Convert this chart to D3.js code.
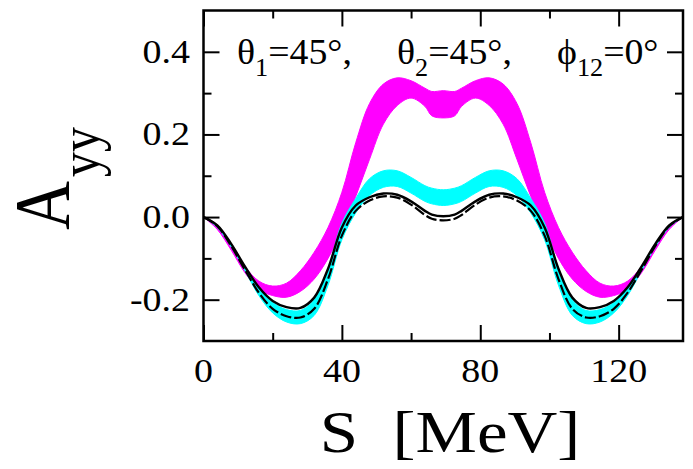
<!DOCTYPE html>
<html>
<head>
<meta charset="utf-8">
<script src="https://cdn.jsdelivr.net/npm/d3@7"></script>
<style>
  html, body { margin: 0; padding: 0; background: #fff; }
  svg { display: block; }
  text { font-family: "Liberation Serif", "Times New Roman", serif; fill: #000; }
</style>
</head>
<body>
<svg id="chart" width="693" height="469"></svg>
<script>
// Energy grid along the kinematical curve S [MeV]
const energy = [0, 4, 8, 12, 16, 20, 24, 28, 32, 36, 40, 44, 48, 52, 56, 60, 64, 66, 69.3,
  72.6, 74.6, 78.6, 82.6, 86.6, 90.6, 94.6, 98.6, 102.6, 106.6, 110.6, 114.6, 118.6, 122.6, 126.6, 130.6, 134.6, 138.6];

// Magenta band (upper / lower edge)
const magentaUpper = [0, -0.025, -0.07, -0.12, -0.155, -0.167, -0.16, -0.13, -0.085, -0.025, 0.06, 0.18, 0.275, 0.322, 0.337, 0.33, 0.312, 0.304, 0.306,
  0.304, 0.312, 0.33, 0.337, 0.322, 0.275, 0.18, 0.06, -0.025, -0.085, -0.13, -0.16, -0.167, -0.155, -0.12, -0.07, -0.025, 0];
const magentaLower = [0, -0.03, -0.08, -0.135, -0.175, -0.19, -0.194, -0.18, -0.15, -0.1, -0.03, 0.05, 0.14, 0.225, 0.27, 0.288, 0.268, 0.245, 0.24,
  0.245, 0.268, 0.288, 0.27, 0.225, 0.14, 0.05, -0.03, -0.1, -0.15, -0.18, -0.194, -0.19, -0.175, -0.135, -0.08, -0.03, 0];

// Cyan band (upper / lower edge)
const cyanUpper = [0, -0.02, -0.065, -0.12, -0.172, -0.207, -0.224, -0.226, -0.2, -0.125, -0.015, 0.045, 0.093, 0.112, 0.112, 0.096, 0.076, 0.07, 0.066,
  0.07, 0.076, 0.096, 0.112, 0.112, 0.093, 0.045, -0.015, -0.125, -0.2, -0.226, -0.224, -0.207, -0.172, -0.12, -0.065, -0.02, 0];
const cyanLower = [0, -0.025, -0.072, -0.13, -0.19, -0.232, -0.254, -0.258, -0.238, -0.165, -0.055, 0.01, 0.052, 0.072, 0.074, 0.058, 0.038, 0.032, 0.028,
  0.032, 0.038, 0.058, 0.074, 0.072, 0.052, 0.01, -0.055, -0.165, -0.238, -0.258, -0.254, -0.232, -0.19, -0.13, -0.072, -0.025, 0];

// Solid and dashed black curves
const solidCurve = [0, -0.02, -0.065, -0.12, -0.17, -0.203, -0.218, -0.22, -0.195, -0.125, -0.025, 0.028, 0.048, 0.057, 0.054, 0.038, 0.015, 0.006, 0.002,
  0.006, 0.015, 0.038, 0.054, 0.057, 0.048, 0.028, -0.025, -0.125, -0.195, -0.22, -0.218, -0.203, -0.17, -0.12, -0.065, -0.02, 0];
const dashedCurve = [0, -0.022, -0.07, -0.128, -0.183, -0.222, -0.24, -0.243, -0.222, -0.15, -0.045, 0.015, 0.04, 0.05, 0.047, 0.03, 0.005, -0.004, -0.008,
  -0.004, 0.005, 0.03, 0.047, 0.05, 0.04, 0.015, -0.045, -0.15, -0.222, -0.243, -0.24, -0.222, -0.183, -0.128, -0.07, -0.022, 0];

// Axis ticks
const xMajorTicks = [0, 40, 80, 120];
const xMinorTicks = [20, 60, 100];
const yMajorTicks = [-0.2, 0.0, 0.2, 0.4];
const yMinorTicks = [-0.1, 0.1, 0.3];
const xTickLabels = ["0", "40", "80", "120"];
const yTickLabels = ["-0.2", "0.0", "0.2", "0.4"];

const box = { left: 203.5, right: 683, top: 10.5, bottom: 341 };
const stretch = 1.15; // horizontal text stretch

const svg = d3.select("#chart");

const x = d3.scaleLinear().domain([0, 138.6]).range([box.left, box.right]);
const y = d3.scaleLinear().domain([-0.3, 0.5]).range([box.bottom, box.top]);

svg.append("clipPath").attr("id", "plotClip")
  .append("rect")
  .attr("x", box.left).attr("y", box.top)
  .attr("width", box.right - box.left).attr("height", box.bottom - box.top);

const plot = svg.append("g").attr("clip-path", "url(#plotClip)");

const rows = energy.map((s, i) => ({
  s,
  mu: magentaUpper[i], ml: magentaLower[i],
  cu: cyanUpper[i], cl: cyanLower[i],
  so: solidCurve[i], da: dashedCurve[i]
}));

const curve = d3.curveCatmullRom.alpha(0.5);

const band = (lo, hi) => d3.area()
  .x(d => x(d.s)).y0(d => y(d[lo])).y1(d => y(d[hi])).curve(curve);

plot.append("path").datum(rows)
  .attr("d", band("ml", "mu"))
  .attr("fill", "#ff00ff").attr("stroke", "#ff00ff").attr("stroke-width", 1);

plot.append("path").datum(rows)
  .attr("d", band("cl", "cu"))
  .attr("fill", "#00ffff").attr("stroke", "#00ffff").attr("stroke-width", 1);

const line = key => d3.line().x(d => x(d.s)).y(d => y(d[key])).curve(curve);

plot.append("path").datum(rows)
  .attr("d", line("da"))
  .attr("fill", "none").attr("stroke", "#000").attr("stroke-width", 2.2)
  .attr("stroke-dasharray", "11,3");

plot.append("path").datum(rows)
  .attr("d", line("so"))
  .attr("fill", "none").attr("stroke", "#000").attr("stroke-width", 2.4);

// Axes with inward ticks on all four sides
const tickStyle = g => {
  g.select(".domain").remove();
  g.selectAll("line").attr("stroke", "#000").attr("stroke-width", 2);
  g.selectAll("text").remove();
};
const majorLen = 16, minorLen = 8;

svg.append("g").attr("transform", `translate(0,${box.bottom})`)
  .call(d3.axisTop(x).tickValues(xMajorTicks).tickSize(majorLen)).call(tickStyle);
svg.append("g").attr("transform", `translate(0,${box.bottom})`)
  .call(d3.axisTop(x).tickValues(xMinorTicks).tickSize(minorLen)).call(tickStyle);
svg.append("g").attr("transform", `translate(0,${box.top})`)
  .call(d3.axisBottom(x).tickValues(xMajorTicks).tickSize(majorLen)).call(tickStyle);
svg.append("g").attr("transform", `translate(0,${box.top})`)
  .call(d3.axisBottom(x).tickValues(xMinorTicks).tickSize(minorLen)).call(tickStyle);
svg.append("g").attr("transform", `translate(${box.left},0)`)
  .call(d3.axisRight(y).tickValues(yMajorTicks).tickSize(majorLen)).call(tickStyle);
svg.append("g").attr("transform", `translate(${box.left},0)`)
  .call(d3.axisRight(y).tickValues(yMinorTicks).tickSize(minorLen)).call(tickStyle);
svg.append("g").attr("transform", `translate(${box.right},0)`)
  .call(d3.axisLeft(y).tickValues(yMajorTicks).tickSize(majorLen)).call(tickStyle);
svg.append("g").attr("transform", `translate(${box.right},0)`)
  .call(d3.axisLeft(y).tickValues(yMinorTicks).tickSize(minorLen)).call(tickStyle);

svg.append("rect")
  .attr("x", box.left).attr("y", box.top)
  .attr("width", box.right - box.left).attr("height", box.bottom - box.top)
  .attr("fill", "none").attr("stroke", "#000").attr("stroke-width", 2.5);

// Tick labels
const labelSize = 33;
svg.append("g").selectAll("text").data(xMajorTicks).join("text")
  .attr("transform", d => `translate(${x(d)},382) scale(${stretch},1)`)
  .attr("text-anchor", "middle")
  .attr("font-size", labelSize)
  .text((d, i) => xTickLabels[i]);

svg.append("g").selectAll("text").data(yMajorTicks).join("text")
  .attr("transform", d => `translate(190,${y(d) + 11}) scale(${stretch},1)`)
  .attr("text-anchor", "end")
  .attr("font-size", labelSize)
  .text((d, i) => yTickLabels[i]);

// Angle annotation
const note = [
  { x: 237, main: "θ", sub: "1", rest: "=45°," },
  { x: 397, main: "θ", sub: "2", rest: "=45°," },
  { x: 557, main: "ϕ", sub: "12", rest: "=0°" }
];
const noteG = svg.append("g");
note.forEach(n => {
  const t = noteG.append("text")
    .attr("transform", `translate(${n.x},64) scale(1.05,1)`)
    .attr("font-size", 36);
  t.append("tspan").text(n.main);
  t.append("tspan").attr("dy", 12).attr("font-size", 25).text(n.sub);
  t.append("tspan").attr("dy", -12).text(n.rest);
});

// Axis titles
const yTitle = svg.append("text")
  .attr("transform", `translate(68,230) scale(${stretch},1) rotate(-90)`)
  .attr("font-size", 68);
yTitle.append("tspan").text("A");
yTitle.append("tspan").attr("dy", 27).attr("dx", 4).attr("font-size", 50).text("yy");

svg.append("text")
  .attr("transform", `translate(450,452) scale(${stretch},1)`)
  .attr("text-anchor", "middle")
  .attr("font-size", 60)
  .attr("xml:space", "preserve")
  .text("S  [MeV]");
</script>
</body>
</html>
